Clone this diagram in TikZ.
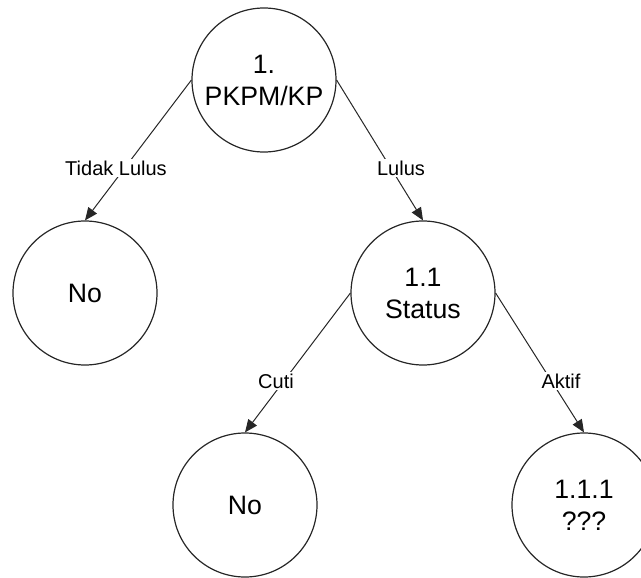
\documentclass[tikz,border=0pt]{standalone}
\usepackage{fontspec}
\setmainfont{Liberation Sans}
\usetikzlibrary{arrows.meta}
\begin{document}
\begin{tikzpicture}[x=0.75pt,y=-0.75pt,
  state/.style={circle, draw=black!85, line width=0.9pt, minimum size=108pt,
    inner sep=0pt, align=center, font=\fontsize{20}{24}\selectfont},
  edgelabel/.style={fill=white, inner sep=1.5pt, font=\fontsize{15}{18}\selectfont},
  link/.style={draw=black!85, line width=0.75pt,
    -{Triangle[length=9.5pt,width=8pt]}}]
\useasboundingbox (0,0) rectangle (641,577);
\clip (0,0) rectangle (641,577);

% decision nodes
\node[state] (pkpm)   at (264,80)  {1.\\PKPM/KP};
\node[state] (noA)    at (85,293)  {No};
\node[state] (status) at (423,293) {1.1\\Status};
\node[state] (noB)    at (245,505) {No};
\node[state] (next)   at (584,505) {1.1.1\\???};

% branches
\draw[link] (pkpm.west)   -- (noA.north);
\draw[link] (pkpm.east)   -- (status.north);
\draw[link] (status.west) -- (noB.north);
\draw[link] (status.east) -- (next.north);

% branch labels
\node[edgelabel] (lblTidak) at (116,168) {Tidak Lulus};
\node[edgelabel] (lblLulus) at (401,168) {Lulus};
\node[edgelabel] (lblCuti)  at (276,381) {Cuti};
\node[edgelabel] (lblAktif) at (561,381) {Aktif};
\end{tikzpicture}
\end{document}
